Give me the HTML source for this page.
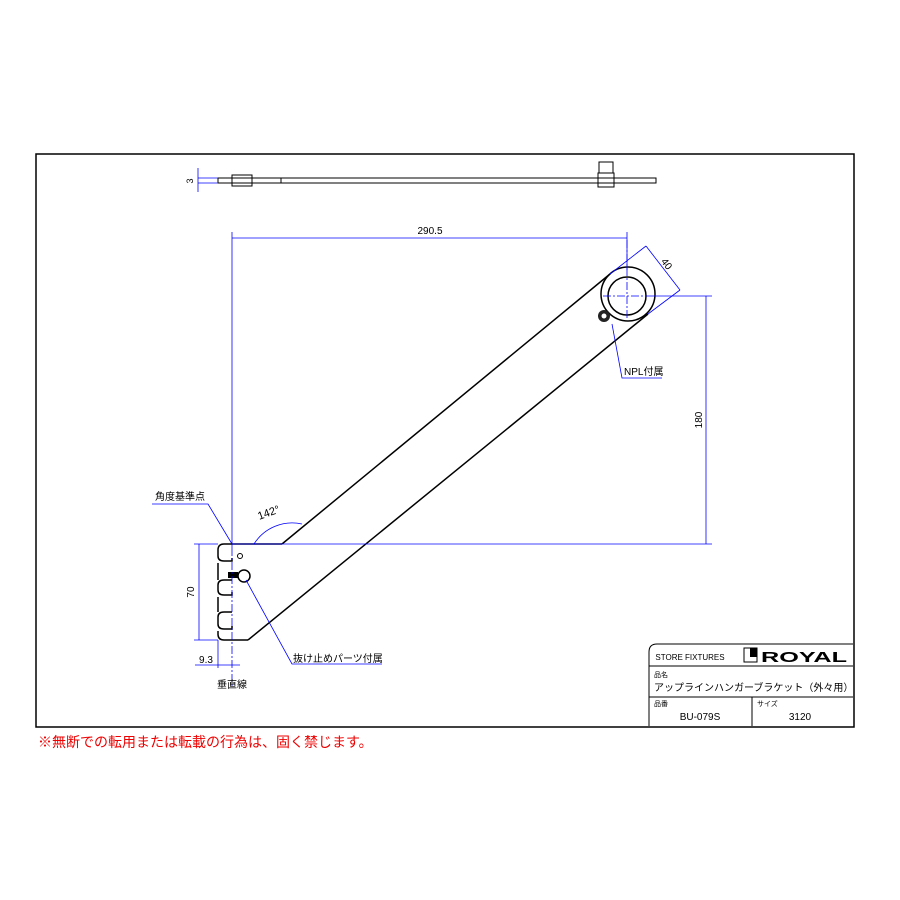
<!DOCTYPE html>
<html><head><meta charset="utf-8"><style>
body{margin:0;background:#fff}
svg{display:block}
text{font-family:"Liberation Sans","Noto Sans CJK JP",sans-serif}
</style></head><body>
<svg width="900" height="900" viewBox="0 0 900 900" xmlns="http://www.w3.org/2000/svg">
<rect x="36" y="154" width="818" height="573" fill="none" stroke="#000" stroke-width="1.5"/>
<g stroke="#000" fill="none" stroke-width="1">
<rect x="218" y="178" width="438" height="5"/>
<rect x="232" y="175" width="20" height="11"/>
<line x1="281" y1="178" x2="281" y2="183"/>
<rect x="599" y="162" width="14" height="11"/>
<rect x="598" y="173" width="16" height="14"/>
</g>
<g stroke="#00f" stroke-width="0.8" fill="none">
<line x1="198" y1="178" x2="218" y2="178"/><line x1="198" y1="183" x2="218" y2="183"/>
<line x1="198" y1="168" x2="198" y2="192"/>
</g>
<text x="193" y="181" font-size="9" transform="rotate(-90 193 181)" text-anchor="middle">3</text>
<g stroke="#000" fill="none" stroke-width="1.5">
<path d="M282 544 L610 274"/>
<path d="M248 640 L648 314"/>
<path d="M282 544 H224 Q218 544 218 550 V556 Q218 561 224 561 H232 V558"/>
<path d="M232 580 H224 Q218 580 218 585 V590 Q218 595 224 595 H232 V592"/>
<path d="M232 612 H224 Q218 612 218 617 V624 Q218 629 224 629 H232 V626"/>
<path d="M218 563 V580 M218 597 V612 M218 631 V634 Q218 640 224 640 H248"/>
<circle cx="628" cy="294" r="27"/>
<circle cx="627" cy="296" r="19"/>
</g>
<circle cx="240" cy="556" r="2.5" fill="none" stroke="#000"/>
<rect x="228" y="572" width="10" height="6" fill="#000"/>
<circle cx="244" cy="576" r="6" fill="none" stroke="#000" stroke-width="1.5"/>
<circle cx="604" cy="316" r="6" fill="#222"/><circle cx="604" cy="316" r="2.5" fill="#fff"/>
<g stroke="#00f" stroke-width="0.8" fill="none">
<line x1="232" y1="232" x2="232" y2="548"/>
<line x1="232" y1="238" x2="627" y2="238"/>
<line x1="627" y1="232" x2="627" y2="270"/>
<line x1="603" y1="296" x2="652" y2="296" stroke-dasharray="8 2 2 2"/>
<line x1="627" y1="240" x2="627" y2="320" stroke-dasharray="8 2 2 2"/>
<line x1="646" y1="246" x2="680" y2="290"/>
<line x1="610" y1="274" x2="646" y2="246"/>
<line x1="648" y1="314" x2="680" y2="290"/>
<line x1="652" y1="296" x2="712" y2="296"/>
<line x1="232" y1="544" x2="712" y2="544"/>
<line x1="706" y1="296" x2="706" y2="544"/>
<line x1="232" y1="548" x2="232" y2="688" stroke-dasharray="8 2 2 2"/>
<line x1="194" y1="544" x2="218" y2="544"/>
<line x1="194" y1="640" x2="218" y2="640"/>
<line x1="199" y1="544" x2="199" y2="640"/>
<line x1="218" y1="640" x2="218" y2="668"/>
<line x1="195" y1="665" x2="240" y2="665"/>
<path d="M254 544 A45 45 0 0 1 302 524"/>
<polyline points="152,504 208,504 232,544"/>
<polyline points="612,324 622,378 662,378"/>
<polyline points="246,580 292,664 382,664"/>
</g>
<text x="430" y="234" font-size="10" text-anchor="middle">290.5</text>
<text x="664" y="266" font-size="10" transform="rotate(52 664 266)" text-anchor="middle">40</text>
<text x="702" y="420" font-size="10" transform="rotate(-90 702 420)" text-anchor="middle">180</text>
<text x="194" y="592" font-size="10" transform="rotate(-90 194 592)" text-anchor="middle">70</text>
<text x="206" y="663" font-size="10" text-anchor="middle">9.3</text>
<text x="232" y="688" font-size="10" text-anchor="middle">垂直線</text>
<text x="155" y="500" font-size="10">角度基準点</text>
<text x="270" y="516" font-size="11" transform="rotate(-20 270 516)" text-anchor="middle">142°</text>
<text x="624" y="375" font-size="10">NPL付属</text>
<text x="293" y="662" font-size="10">抜け止めパーツ付属</text>
<g stroke="#000" fill="none" stroke-width="1">
<path d="M649 726 V652 Q649 644 657 644 H853"/>
<line x1="649" y1="666" x2="853" y2="666"/>
<line x1="649" y1="697" x2="853" y2="697"/>
<line x1="752" y1="697" x2="752" y2="726"/>
<rect x="744" y="648" width="13" height="14"/>
</g>
<rect x="750" y="648" width="7" height="9" fill="#000"/>
<text x="690" y="660" font-size="8" text-anchor="middle">STORE FIXTURES</text>
<text x="761" y="662" font-size="15" font-weight="bold" textLength="86" lengthAdjust="spacingAndGlyphs">ROYAL</text>
<text x="654" y="677" font-size="7">品名</text>
<text x="654" y="691" font-size="10">アップラインハンガーブラケット（外々用）</text>
<text x="654" y="706" font-size="7">品番</text>
<text x="757" y="706" font-size="7">サイズ</text>
<text x="700" y="720" font-size="10" text-anchor="middle">BU-079S</text>
<text x="800" y="720" font-size="10" text-anchor="middle">3120</text>
<text x="38" y="747" font-size="14" fill="#e00">※無断での転用または転載の行為は、固く禁じます。</text>
</svg>
</body></html>
